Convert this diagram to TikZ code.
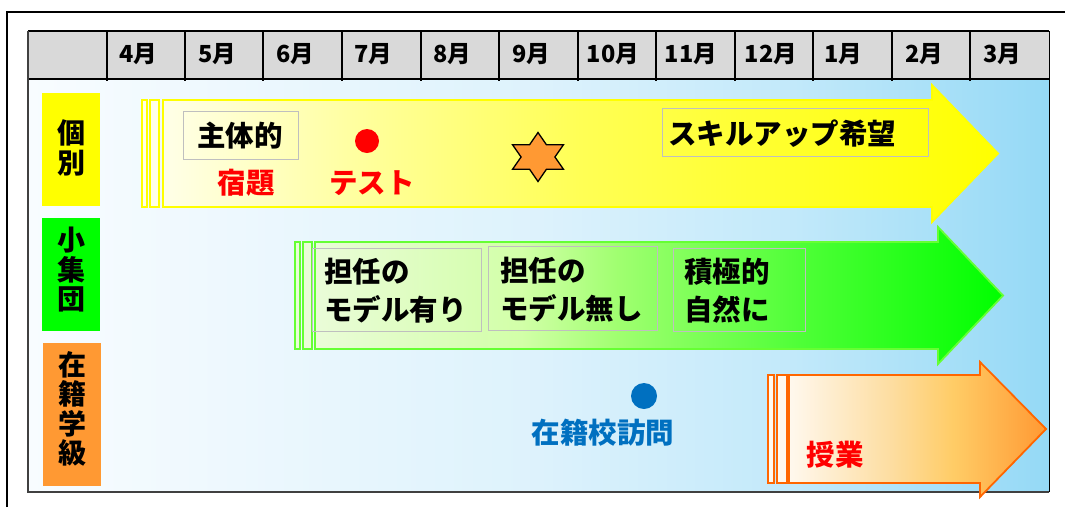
\documentclass[tikz,border=0pt]{standalone}
\usepackage{fontspec}
\setmainfont{Noto Sans CJK JP}
\definecolor{hdrgray}{HTML}{D9D9D9}
\definecolor{boxgray}{HTML}{BFBFBF}
\definecolor{bg0}{HTML}{F8FCFF}
\definecolor{bg1}{HTML}{DDF2FC}
\definecolor{bg2}{HTML}{C2E9FA}
\definecolor{bg3}{HTML}{95D9F6}
\definecolor{y0}{HTML}{FFFFE8}
\definecolor{y1}{HTML}{FFFF99}
\definecolor{y2}{HTML}{FFFF55}
\definecolor{y3}{HTML}{FFFF00}
\definecolor{g0}{HTML}{EAFCD8}
\definecolor{g1}{HTML}{D2FFA8}
\definecolor{g2}{HTML}{A0FF70}
\definecolor{g3}{HTML}{50FF38}
\definecolor{g4}{HTML}{00FF00}
\definecolor{o0}{HTML}{FFF8EE}
\definecolor{o1}{HTML}{FDDDA0}
\definecolor{o2}{HTML}{FFCC66}
\definecolor{o3}{HTML}{FF9933}
\definecolor{arrY}{HTML}{FFFF00}
\definecolor{arrG}{HTML}{66FF33}
\definecolor{arrO}{HTML}{FF6600}
\definecolor{lblY}{HTML}{FFFF00}
\definecolor{lblG}{HTML}{00FF00}
\definecolor{lblO}{HTML}{FF9933}
\definecolor{starO}{HTML}{FF9933}
\definecolor{redT}{HTML}{FF0000}
\definecolor{blueT}{HTML}{0070C0}
\pgfdeclarehorizontalshading{bgsh}{100bp}{color(0bp)=(bg0); color(25bp)=(bg0); color(50bp)=(bg1); color(62.5bp)=(bg2); color(75bp)=(bg3); color(100bp)=(bg3)}
\pgfdeclarehorizontalshading{ysh}{100bp}{color(0bp)=(y0); color(25bp)=(y0); color(37.5bp)=(y1); color(50bp)=(y2); color(75bp)=(y3); color(100bp)=(y3)}
\pgfdeclarehorizontalshading{gsh}{100bp}{color(0bp)=(g0); color(25bp)=(g0); color(40bp)=(g1); color(47bp)=(g2); color(60bp)=(g3); color(75bp)=(g4); color(100bp)=(g4)}
\pgfdeclarehorizontalshading{osh}{100bp}{color(0bp)=(o0); color(25bp)=(o0); color(45bp)=(o1); color(57bp)=(o2); color(75bp)=(o3); color(100bp)=(o3)}
\tikzset{
  month/.style={font=\fontsize{23.5}{23.5}\selectfont\bfseries},
  rowlbl/.style={font=\fontsize{28}{29.5}\selectfont\bfseries, align=center, inner sep=0pt},
  txt/.style={font=\fontsize{28.5}{38}\selectfont\bfseries, inner sep=0pt},
  twoline/.style={txt, align=left, anchor=west},
  tbox/.style={draw=boxgray, line width=1pt},
  strip/.style={line width=1.5pt},
}
\begin{document}
\begin{tikzpicture}[x=1pt,y=-1pt]
\useasboundingbox (0,0) rectangle (1065,507);
% background of body
\shade[shading=bgsh] (28,79) rectangle (1049,492);
% header
\fill[hdrgray] (28,31) rectangle (1049,79);
\draw[line width=1.5pt] (28,31) -- (1049,31);
\draw[line width=1.5pt] (28,79) -- (1049,79);
\foreach \x in {107,185,263,342,421,499,578,656,735,813,892,970}
  \draw[line width=1.2pt] (\x,31) -- (\x,80.5);
\draw[line width=1.5pt, black!75] (28,31) -- (28,492) -- (1049,492);
\draw[line width=1pt] (1049,31) -- (1049,492);
% outer frame
\draw[line width=2pt] (7,507) -- (7,12) -- (1065,12);
% months
\node[month] (m4) at (138,54) {4月};
\node[month] (m5) at (217,54) {5月};
\node[month] (m6) at (295,54) {6月};
\node[month] (m7) at (373,54) {7月};
\node[month] (m8) at (452,54) {8月};
\node[month] (m9) at (531,54) {9月};
\node[month] (m10) at (613,54) {10月};
\node[month] (m11) at (691,54) {11月};
\node[month] (m12) at (771,54) {12月};
\node[month] (m1) at (843,54) {1月};
\node[month] (m2) at (924,54) {2月};
\node[month] (m3) at (1002,54) {3月};
% row labels
\fill[lblY] (42,93) rectangle (100,206);
\node[rowlbl] (lbl1) at (71,148) {個\\別};
\fill[lblG] (42,218) rectangle (100,331);
\node[rowlbl] (lbl2) at (71,270) {小\\集\\団};
\fill[lblO] (43,343) rectangle (101,486);
\node[rowlbl] (lbl3) at (72,409) {在\\籍\\学\\級};
% yellow arrow
\filldraw[fill=y0, draw=arrY, strip] (142,100) rectangle (147,207);
\filldraw[fill=y0, draw=arrY, strip] (150,100) rectangle (159,207);
\shadedraw[shading=ysh, draw=arrY, line width=1.8pt] (163,100) -- (932,100) -- (932,85) -- (998,153.5) -- (932,222) -- (932,207) -- (163,207) -- cycle;
% green arrow
\filldraw[fill=g0, draw=arrG, strip] (295,242) rectangle (300,349);
\filldraw[fill=g0, draw=arrG, strip] (303,242) rectangle (312,349);
\shadedraw[shading=gsh, draw=arrG, line width=1.8pt] (315,242) -- (938,242) -- (938,227) -- (1003,295.5) -- (938,364) -- (938,349) -- (315,349) -- cycle;
% orange arrow
\filldraw[fill=o0, draw=arrO, strip] (768,375) rectangle (774,483);
\filldraw[fill=o0, draw=arrO, strip] (777,375) rectangle (787,483);
\shadedraw[shading=osh, draw=arrO, line width=1.8pt] (789,375) -- (980,375) -- (980,362) -- (1046,429) -- (980,497) -- (980,483) -- (789,483) -- cycle;
% individual row content
\draw[tbox] (183,111) rectangle (298,159);
\node[txt] (shutai) at (240,136) {主体的};
\node[txt, text=redT] (shukudai) at (246,183) {宿題};
\fill[redT] (367,141) circle[radius=12pt];
\node[txt, text=redT] (test) at (372,183) {テスト};
\begin{scope}[shift={(538,157)}, xscale=1.2]
\filldraw[fill=starO, draw=black, line width=1.3pt, line join=miter]
  (90:24.5) -- (120:14.1) -- (150:24.5) -- (180:14.1) -- (210:24.5) -- (240:14.1)
  -- (270:24.5) -- (300:14.1) -- (330:24.5) -- (0:14.1) -- (30:24.5) -- (60:14.1) -- cycle;
\end{scope}
\draw[tbox] (662,108) rectangle (928,156);
\node[txt] (skill) at (782,134) {スキルアップ希望};
% small group content
\draw[tbox] (312,248) rectangle (481,331);
\node[twoline] (model1) at (324,291) {担任の\\モデル有り};
\draw[tbox] (488,246) rectangle (657,330);
\node[twoline] (model2) at (500,290) {担任の\\モデル無し};
\draw[tbox] (673,248) rectangle (805,331);
\node[twoline] (sekkyoku) at (684,291) {積極的\\自然に};
% home class content
\fill[blueT] (644,396) circle[radius=13pt];
\node[txt, text=blueT] (houmon) at (603,433) {在籍校訪問};
\node[txt, text=redT] (jugyou) at (835,455) {授業};
\end{tikzpicture}
\end{document}
